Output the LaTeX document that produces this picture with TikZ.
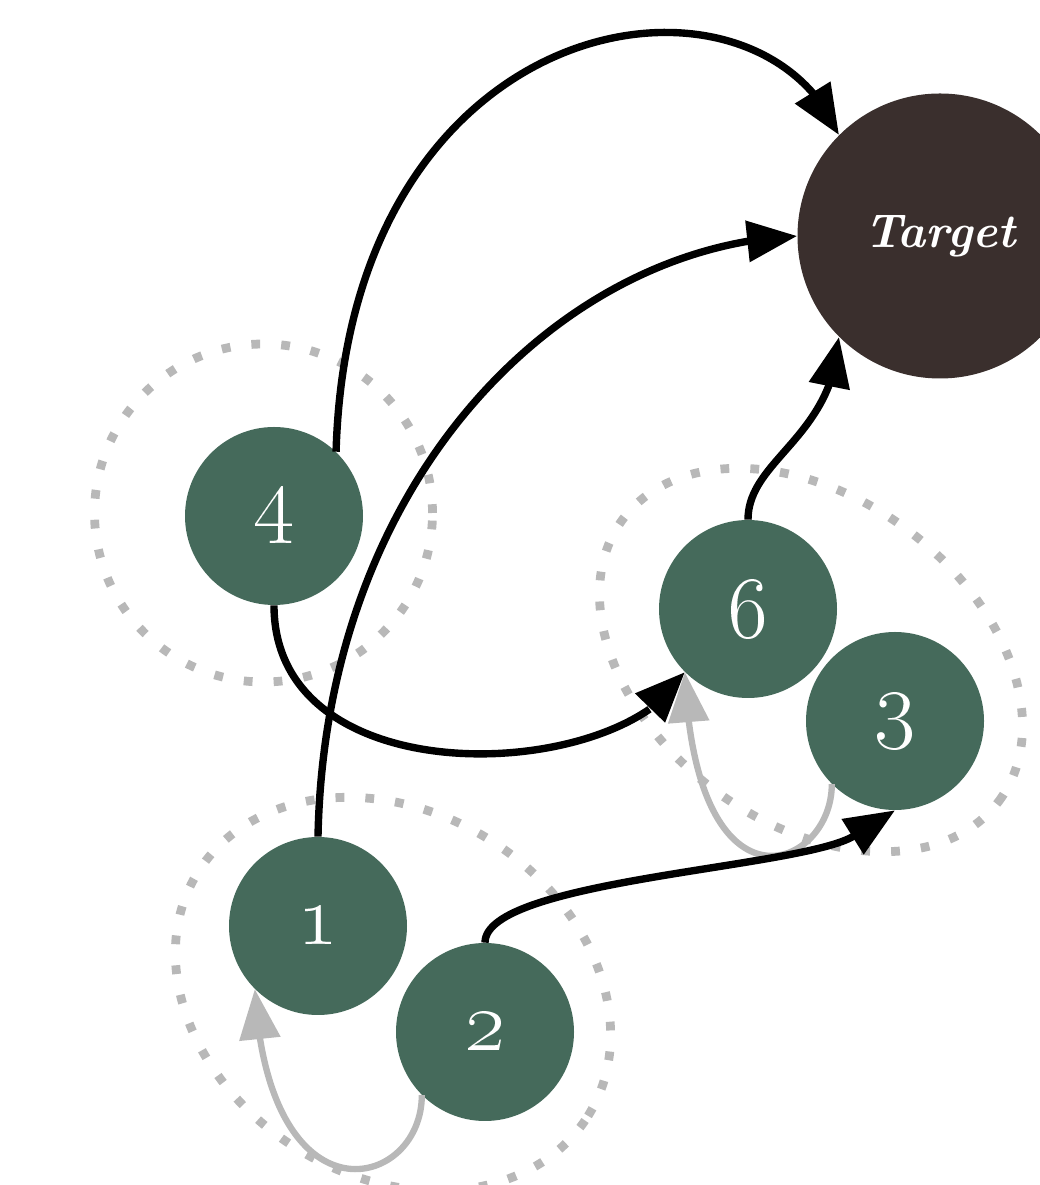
\documentclass[tikz,border=0pt]{standalone}
\usepackage{fix-cm}
\usetikzlibrary{arrows.meta,bending}

\definecolor{nodegreen}{HTML}{456A5B}
\definecolor{targetbrown}{HTML}{3A2F2D}
\definecolor{lightgrey}{HTML}{B8B8B8}

\newcommand*{\numfont}{\fontsize{50}{54}\selectfont}
\newcommand*{\goalfont}{\fontsize{27}{31}\selectfont\bfseries\itshape}

\begin{document}
\begin{tikzpicture}
[
	state/.style={circle,fill=nodegreen,text=white,inner sep=0pt,minimum size=3.56cm,font=\numfont},
	goal/.style={circle,fill=targetbrown,text=white,inner sep=0pt,minimum size=5.7cm,font=\goalfont},
	group/.style={draw=lightgrey,line width=5pt,dash pattern=on 5pt off 12pt},
	flow/.style={line width=4.2pt,-{Triangle[length=1cm,width=0.8cm]}},
	back/.style={draw=lightgrey,line width=3.6pt,-{Triangle[length=1cm,width=0.8cm]}}
]

	\useasboundingbox (0,0) rectangle (20.78,23.7);

	% groups
	\draw[group] (5.27,13.44) circle (3.38);
	\draw[group,rotate around={-37:(16.22,10.50)}] (16.22,10.50) ellipse (4.7 and 3.24);
	\draw[group,rotate around={-32:(7.86,3.82)}] (7.86,3.82) ellipse (4.6 and 3.64);

	% nodes
	\node[goal] at (18.80,18.98) (target) {Target};
	\node[state] at (5.48,13.38) (n4) {\oldstylenums{4}};
	\node[state] at (14.96,11.52) (n6) {\oldstylenums{6}};
	\node[state] at (17.90,9.28) (n3) {\oldstylenums{3}};
	\node[state] at (6.36,5.18) (n1) {\oldstylenums{1}};
	\node[state] at (9.70,3.06) (n2) {\oldstylenums{2}};

	% edges
	\draw[flow] (n4.46) .. controls +(0.26,9.0) and +(-1.6,3.8) .. (target.135);
	\draw[flow] (n1.north) .. controls +(0.14,7.16) and +(-4.74,-0.2) .. (target.west);
	\draw[flow] (n4.south) .. controls +(0,-3.9) and +(-1.2,-2.2) .. (n6.225);
	\draw[flow] (n6.north) .. controls +(0,1.2) and +(-0.1,-2.0) .. (target.225);
	\draw[back] (n3.225) .. controls +(0,-1.72) and +(0.2,-5.04) .. (n6.225);
	\draw[back] (n2.225) .. controls +(0,-1.9) and +(0.26,-4.8) .. (n1.225);
	\draw[flow,-{Triangle[length=1cm,width=0.8cm,quick]}] (n2.north) .. controls +(0,1.26) and +(-1.86,-1.16) .. (n3.south);

\end{tikzpicture}
\end{document}
